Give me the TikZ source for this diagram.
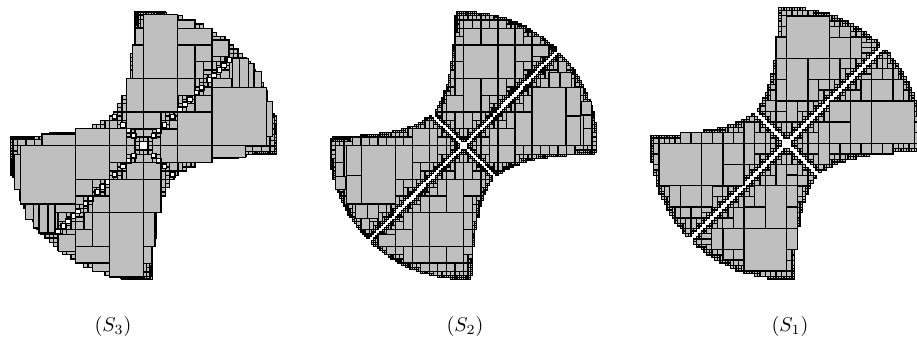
\documentclass[tikz,border=0pt]{standalone}
\usepackage{amsmath,amssymb}
\usepackage{tikz}

\newcount\cellfar
\newcount\cellnear
\newcount\celllo
\newcount\cellhi
\newcount\celltmp
\newcount\cellstate

\def\discrad{401}
\def\hypcut{9000}
\def\stripe{10}
\def\leafsize{7}

\newcommand{\cellsq}[2]{%
  \ifnum\numexpr#1*#1\relax>\numexpr#2*#2\relax
    \advance\cellfar by \numexpr#1*#1\relax
    \ifnum\numexpr#1*#2\relax>0 \advance\cellnear by \numexpr#2*#2\relax\fi
  \else
    \advance\cellfar by \numexpr#2*#2\relax
    \ifnum\numexpr#1*#2\relax>0 \advance\cellnear by \numexpr#1*#1\relax\fi
  \fi}

\newcommand{\cellprod}[2]{%
  \celltmp=\numexpr#1*#2\relax
  \ifnum\celltmp<\celllo \celllo=\celltmp\fi
  \ifnum\celltmp>\cellhi \cellhi=\celltmp\fi}

\newcommand{\pavecell}[4]{%
  \cellfar=0 \cellnear=0
  \cellsq{#1}{#3}\cellsq{#2}{#4}%
  \celllo=\numexpr#1*#2\relax \cellhi=\celllo
  \cellprod{#1}{#4}\cellprod{#3}{#2}\cellprod{#3}{#4}%
  \cellstate=2
  \ifnum\cellfar>\numexpr\discrad*\discrad\relax\else
    \ifnum\cellhi>\hypcut\else
      \ifnum\numexpr#1-(#4)\relax>\stripe \cellstate=3 \fi
      \ifnum\numexpr#3-(#2)\relax<-\stripe \cellstate=3 \fi
      \ifnum\cellstate=3
        \cellstate=2
        \ifnum\numexpr#1+#2\relax>\stripe \cellstate=1 \fi
        \ifnum\numexpr#3+#4\relax<-\stripe \cellstate=1 \fi
      \fi
    \fi
  \fi
  \ifnum\cellnear>\numexpr\discrad*\discrad\relax \cellstate=0 \fi
  \ifnum\celllo>\hypcut \cellstate=0 \fi
  \ifnum\numexpr#1-(#4)\relax<-\stripe\else
    \ifnum\numexpr#3-(#2)\relax>\stripe\else \cellstate=0 \fi
  \fi
  \ifnum\numexpr#1+#2\relax<-\stripe\else
    \ifnum\numexpr#3+#4\relax>\stripe\else \cellstate=0 \fi
  \fi
  \def\cellnext{}%
  \ifnum\cellstate=1 \def\cellnext{\draw[cellbox] (#1,#2) rectangle (#3,#4);}\fi
  \ifnum\cellstate=2
    \ifnum\numexpr#3-#1\relax>\leafsize
      \cellstate=4
    \else
      \ifnum\numexpr#4-#2\relax>\leafsize \cellstate=4 \else \cellleaf{#1}{#2}{#3}{#4}\fi
    \fi
  \fi
  \ifnum\cellstate=4
    \ifnum\numexpr#3-#1\relax<\numexpr#4-#2\relax
      \edef\cellmid{\the\numexpr(#2+#4)/2\relax}%
      \edef\cellnext{\noexpand\pavecell{#1}{#2}{#3}{\cellmid}\noexpand\pavecell{#1}{\cellmid}{#3}{#4}}%
    \else
      \edef\cellmid{\the\numexpr(#1+#3)/2\relax}%
      \edef\cellnext{\noexpand\pavecell{#1}{#2}{\cellmid}{#4}\noexpand\pavecell{\cellmid}{#2}{#3}{#4}}%
    \fi
  \fi
  \cellnext}

\newcommand{\cellleaf}[4]{%
  \cellstate=1
  \celltmp=\numexpr(#1+#3)*(#1+#3)+(#2+#4)*(#2+#4)\relax
  \ifnum\celltmp>\numexpr4*\discrad*\discrad\relax \cellstate=0 \fi
  \ifnum\numexpr(#1+#3)*(#2+#4)\relax>\numexpr4*\hypcut\relax \cellstate=0 \fi
  \celltmp=\numexpr#1+#3-#2-#4\relax
  \ifnum\celltmp<0 \celltmp=-\celltmp\fi
  \ifnum\celltmp>\numexpr2*\stripe\relax\else \cellstate=0 \fi
  \celltmp=\numexpr#1+#3+#2+#4\relax
  \ifnum\celltmp<0 \celltmp=-\celltmp\fi
  \ifnum\celltmp>\numexpr2*\stripe\relax\else \cellstate=0 \fi
  \ifnum\cellstate=1 \def\cellnext{\draw[cellbox] (#1,#2) rectangle (#3,#4);}\fi}

\newcommand{\bothcells}[2]{%
  \foreach \xa/\ya/\xb/\yb in {#2} {
    \draw[cellbox] (\xa,\ya) rectangle (\xb,\yb);
    \draw[cellbox,rotate around={180:(#1)}] (\xa,\ya) rectangle (\xb,\yb);
  }}

\begin{document}
\begin{tikzpicture}[
  x=0.16667pt, y=-0.16667pt,
  cellbox/.style={draw=black, fill=lightgray, line width=0.65pt},
  gapbox/.style={draw=black, fill=white, line width=0.65pt},
  every node/.style={inner sep=0pt}
]
\useasboundingbox (0,0) rectangle (2751,1023);
\clip (0,0) rectangle (2751,1023);

% S3
\begin{scope}
  \begin{scope}[shift={(431,437)}]
    \def\stripe{-1}\def\leafsize{13}
    \pavecell{-410}{-402}{410}{402}
    \def\leafsize{7}
    \pavecell{-25}{-405}{100}{-300}
    \pavecell{300}{-100}{405}{35}
    \pavecell{-100}{300}{25}{405}
    \pavecell{-405}{-35}{-300}{100}
  \end{scope}
  \bothcells{431,437}{431/43/533/236, 380/236/431/336, 431/236/533/336, 397/135/431/236,
    533/85/636/135, 533/60/585/85, 533/135/585/236, 585/135/636/185, 585/185/610/236,
    636/120/687/170, 636/262/800/437, 636/437/736/472, 533/336/636/437, 533/437/636/488,
    431/336/482/387, 380/336/431/387, 482/387/533/437, 482/437/533/488, 585/286/636/336,
    533/236/585/286, 636/236/695/262, 697/175/718/262, 718/175/745/262, 745/190/762/262,
    762/215/785/262, 800/305/818/410}
  \begin{scope}[shift={(431,437)}]
    \foreach \off in {30,45,62,87} {
      \draw[gapbox] ({\off-7},{-\off-7}) rectangle ({\off+7},{-\off+7});
      \draw[gapbox] ({-\off-7},{\off-7}) rectangle ({-\off+7},{\off+7});
      \draw[gapbox] ({-\off-7},{-\off-7}) rectangle ({-\off+7},{-\off+7});
      \draw[gapbox] ({\off-7},{\off-7}) rectangle ({\off+7},{\off+7});
    }
    \foreach \off in {109,124,139,159,174,197,211,227,241,257} {
      \draw[gapbox] ({\off-7},{-\off-7}) rectangle ({\off+7},{-\off+7});
      \draw[gapbox] ({-\off-7},{\off-7}) rectangle ({-\off+7},{\off+7});
    }
    \draw[gapbox] (-13,-13) rectangle (13,13);
  \end{scope}
\end{scope}

% S2
\begin{scope}[shift={(960,0)}]
  \begin{scope}[shift={(431,437)}]
    \def\stripe{10}\def\leafsize{7}
    \pavecell{-410}{-402}{410}{402}
  \end{scope}
  \bothcells{431,437}{636/262/738/437, 738/262/782/348, 738/348/782/437, 687/218/720/262,
    720/218/755/262, 636/135/687/170, 785/305/815/345}
\end{scope}

% S1
\begin{scope}[shift={(1905,0)}]
  \begin{scope}[shift={(455,430)}]
    \def\discrad{407}\def\stripe{13}\def\leafsize{8}
    \pavecell{-510}{-510}{510}{510}
  \end{scope}
  \bothcells{455,430}{455/48/583/175, 423/112/455/175, 583/112/646/175, 646/112/680/175,
    583/80/614/112, 614/80/646/112, 710/303/838/430, 646/303/710/430, 710/239/774/303,
    774/239/806/303, 678/239/710/303, 583/303/646/366, 583/366/646/430, 551/366/583/430,
    455/175/519/303, 519/175/583/239, 423/175/455/239, 423/239/455/303, 519/239/551/303,
    455/303/487/366, 423/303/455/335, 646/430/678/462, 678/430/710/462, 710/430/742/462,
    742/430/774/462}
\end{scope}

\node (labelthree) at (339,978) {$(S_3)$};
\node (labeltwo) at (1395,978) {$(S_2)$};
\node (labelone) at (2370,978) {$(S_1)$};
\end{tikzpicture}
\end{document}
